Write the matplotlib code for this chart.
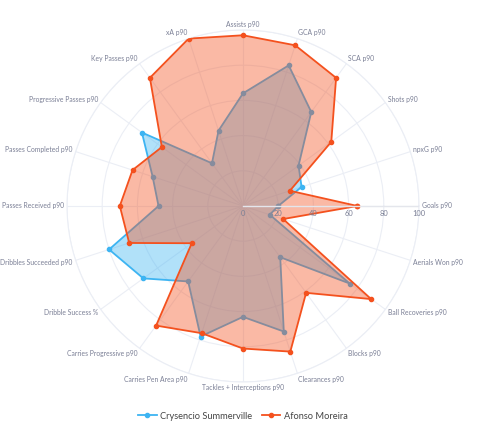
import matplotlib.pyplot as plt
import numpy as np

categories = ["Goals p90", "npxG p90", "Shots p90", "SCA p90", "GCA p90",
              "Assists p90", "xA p90", "Key Passes p90", "Progressive Passes p90",
              "Passes Completed p90", "Passes Received p90",
              "Dribbles Succeeded p90", "Dribble Success %",
              "Carries Progressive p90", "Carries Pen Area p90",
              "Tackles + Interceptions p90", "Clearances p90", "Blocks p90",
              "Ball Recoveries p90", "Aerials Won p90"]

summerville = [20, 35, 39, 66, 84, 64, 45, 30, 71, 54, 48, 80, 70, 53, 78,
               63, 75, 36, 75, 16]
moreira = [65, 28, 62, 90, 96, 97, 100, 90, 57, 66, 70, 68, 36, 84, 76,
           81, 87, 61, 90, 24]

radial_ticks = [0, 20, 40, 60, 80, 100]

blue = "#3db4f2"
orange = "#f4511e"
grid_col = "#ebeef5"
label_col = "#7a7f95"

plt.rcParams["font.family"] = ["Lato", "DejaVu Sans"]

fig = plt.figure(figsize=(5.0, 4.29), dpi=100)
ax = fig.add_axes([0.134, 0.1096, 0.704, 0.8205], projection="polar")

n = len(categories)
theta = np.arange(n) * 2 * np.pi / n
theta_closed = np.append(theta, theta[0])

# each trace drawn on top of the previous one, like plotly does
for i, (vals, col, name) in enumerate([(summerville, blue, "Crysencio Summerville"),
                                       (moreira, orange, "Afonso Moreira")]):
    v = np.append(vals, vals[0])
    ax.fill(theta_closed, v, color=col, alpha=0.4, linewidth=0, zorder=2 + 2 * i)
    ax.plot(theta_closed, v, color=col, linewidth=1.3, marker="o",
            markersize=3, zorder=3 + 2 * i, label=name)

ax.set_ylim(0, 100)
ax.set_xticks(theta)
ax.set_xticklabels([])
ax.set_yticks(radial_ticks[1:])
ax.set_yticklabels([])
ax.grid(color=grid_col, linewidth=0.8, zorder=0)
ax.spines["polar"].set_color(grid_col)
ax.spines["polar"].set_linewidth(0.8)
ax.set_axisbelow(True)

# category labels outside the circle
for t, lab in zip(theta, categories):
    c, s = np.cos(t), np.sin(t)
    if abs(c) < 0.1:
        ha = "center"
    else:
        ha = "left" if c > 0 else "right"
    ax.annotate(lab, xy=(t, 100), xytext=(2.3 * c, 4.3 * s),
                textcoords="offset points", ha=ha, va="center",
                fontsize=4.85, color=label_col, annotation_clip=False)

# radial axis line and tick labels
ax.plot([0, 0], [0, 100], color="#e4e6ec", linewidth=1.0, zorder=8)
for r in radial_ticks:
    ax.annotate(str(r), xy=(0, r), xytext=(0, -3), textcoords="offset points",
                ha="center", va="top", fontsize=5.4, color=label_col,
                annotation_clip=False, zorder=9)

leg = fig.legend(loc="lower center", bbox_to_anchor=(0.486, 0.0), ncol=2,
                 frameon=False, fontsize=6.7, handlelength=2.0,
                 columnspacing=1.0, handletextpad=0.4)
for txt in leg.get_texts():
    txt.set_color("#444444")

fig.savefig("out.png", dpi=100)
